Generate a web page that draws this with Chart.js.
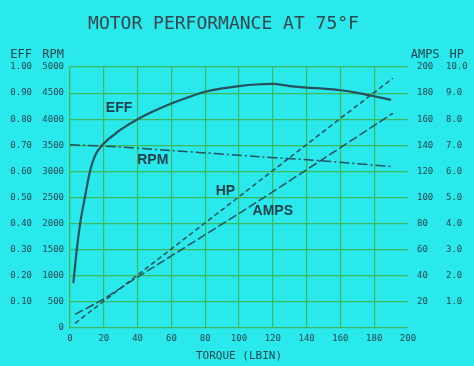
<!DOCTYPE html>
<html><head><meta charset="utf-8">
<script src="https://cdn.jsdelivr.net/npm/chart.js@4/dist/chart.umd.min.js"></script>
<style>html,body{margin:0;padding:0;background:#2ae9ec;overflow:hidden}</style>
</head><body>
<canvas id="c" width="474" height="366"></canvas>
<script>
// ---- data ----
const chartTitle = 'MOTOR PERFORMANCE AT 75°F';
const xTitle = 'TORQUE (LBIN)';
const torqueTicks = [0,20,40,60,80,100,120,140,160,180,200];
const effTickLabels = ['', '0.10','0.20','0.30','0.40','0.50','0.60','0.70','0.80','0.90','1.00'];
const rpmTickLabels = ['0','500','1000','1500','2000','2500','3000','3500','4000','4500','5000'];
const ampsTickLabels = ['', '20','40','60','80','100','120','140','160','180','200'];
const hpTickLabels = ['', '1.0','2.0','3.0','4.0','5.0','6.0','7.0','8.0','9.0','10.0'];

const effTorque = [2,4,6,8.5,12,15,19,23,27,30,40,50,60,70,80,90,100,110,120,130,140,150,160,170,180,190];
const effValues = [0.172,0.30,0.40,0.49,0.605,0.663,0.70,0.725,0.745,0.76,0.80,0.832,0.86,0.884,0.905,0.918,0.927,0.933,0.935,0.927,0.921,0.917,0.911,0.901,0.888,0.874];
const rpmTorque = [0,20,60,112,150,191];
const rpmValues = [3510,3485,3400,3282,3200,3090];
const hpTorque = [3,100,160,191];
const hpValues = [0.18,5.03,8.03,9.57];
const ampsTorque = [3,19,40,110,191];
const ampsValues = [10.5,21.5,39,96,164.5];

// curve label anchors (torque, efficiency-scale value)
const curveLabels = [
  {text:'EFF', x:29, y:0.843},
  {text:'RPM', x:49, y:0.644},
  {text:'HP', x:92, y:0.525},
  {text:'AMPS', x:120, y:0.448}
];

// ---- style ----
const BG = '#2ae9ec';
const GRID = '#3fb85a';
const INK = '#22474f';
const LINE = '#24515c';
const MONO = '"DejaVu Sans Mono", "Liberation Mono", monospace';

const pts = (xs, ys) => xs.map((x,i)=>({x, y: ys[i]}));

const overlay = {
  id:'overlay',
  beforeDraw(chart){
    const c = chart.ctx;
    c.save(); c.fillStyle = BG; c.fillRect(0,0,chart.width,chart.height); c.restore();
  },
  afterDraw(chart){
    const c = chart.ctx, s = chart.scales;
    c.save();
    c.fillStyle = '#34464c';
    c.font = '18px ' + MONO;
    c.textAlign = 'center'; c.textBaseline = 'middle';
    c.fillText(chartTitle, 223.5, 24);
    // axis titles
    c.fillStyle = INK;
    const tickFont = '9px ' + MONO;
    const colCenter = (scale, labels, side, pad) => {
      c.font = tickFont;
      const w = Math.max(...labels.map(l=>c.measureText(l).width));
      c.font = '12px ' + MONO;
      return side === 'left' ? scale.right - pad - w/2 : scale.left + pad + w/2;
    };
    const yT = s.eff.top - 12;
    c.fillText('EFF', colCenter(s.eff, effTickLabels, 'left', 4), yT);
    c.fillText('RPM', colCenter(s.rpm, rpmTickLabels, 'left', 6), yT);
    c.fillText('AMPS', colCenter(s.amps, ampsTickLabels, 'right', 9), yT);
    c.fillText('HP', colCenter(s.hp, hpTickLabels, 'right', 4), yT);
    // curve labels
    c.font = 'bold 14px "Liberation Sans", Arial, sans-serif';
    c.fillStyle = '#1f3f49';
    curveLabels.forEach(l => {
      c.fillText(l.text, s.x.getPixelForValue(l.x), s.eff.getPixelForValue(l.y));
    });
    c.restore();
  }
};

const tickStyle = {color: INK, font: {family: MONO, size: 9}};

new Chart(document.getElementById('c'), {
  type: 'line',
  data: {
    datasets: [
      {label:'EFF', data: pts(effTorque, effValues), yAxisID:'eff', borderColor: LINE, borderWidth: 2.2, pointRadius: 0, cubicInterpolationMode:'monotone', fill:false},
      {label:'RPM', data: pts(rpmTorque, rpmValues), yAxisID:'rpm', borderColor: LINE, borderWidth: 1.5, pointRadius: 0, borderDash:[10,3,2,3], tension:0.3, fill:false},
      {label:'HP', data: pts(hpTorque, hpValues), yAxisID:'hp', borderColor: LINE, borderWidth: 1.5, pointRadius: 0, borderDash:[5,3], fill:false},
      {label:'AMPS', data: pts(ampsTorque, ampsValues), yAxisID:'amps', borderColor: LINE, borderWidth: 1.5, pointRadius: 0, borderDash:[9,3], tension:0.2, fill:false}
    ]
  },
  options: {
    responsive: false,
    animation: false,
    devicePixelRatio: 1,
    layout: {padding: {top: 67, left: 0, right: 0, bottom: 0}},
    plugins: {legend: {display:false}, title:{display:false}, tooltip:{enabled:false}},
    scales: {
      x: {
        type:'linear', min:0, max:200,
        afterBuildTicks: sc => { sc.ticks = torqueTicks.map(v=>({value:v})); },
        ticks: {...tickStyle, padding: 5, maxRotation:0, autoSkip:false},
        grid: {color: ctx => (ctx.tick && ctx.tick.value === 200) ? 'rgba(0,0,0,0)' : GRID, lineWidth: 1.2, drawTicks:false},
        border: {display:false},
        title: {display:true, text: xTitle, color: INK, font:{family: MONO, size: 11}, padding:{top:6, bottom:3}},
        afterFit: sc => { sc.height = 38; }
      },
      rpm: {
        position:'left', min:0, max:5000,
        afterBuildTicks: sc => { sc.ticks = rpmTickLabels.map((_,i)=>({value:i*500})); },
        ticks: {...tickStyle, padding:6, autoSkip:false, callback:(v,i)=>rpmTickLabels[i]},
        grid: {drawOnChartArea:false, drawTicks:false},
        border: {display:true, color: GRID, width: 1.2},
        afterFit: sc => { sc.width = 34; }
      },
      eff: {
        position:'left', min:0, max:1,
        afterBuildTicks: sc => { sc.ticks = effTickLabels.map((_,i)=>({value:i/10})); },
        ticks: {...tickStyle, padding:4, autoSkip:false, callback:(v,i)=>effTickLabels[i]},
        grid: {color: GRID, lineWidth: 1.2, drawTicks:false},
        border: {display:false},
        afterFit: sc => { sc.width = 36; }
      },
      amps: {
        position:'right', min:0, max:200,
        afterBuildTicks: sc => { sc.ticks = ampsTickLabels.map((_,i)=>({value:i*20})); },
        ticks: {...tickStyle, padding:9, autoSkip:false, callback:(v,i)=>ampsTickLabels[i]},
        grid: {drawOnChartArea:false, drawTicks:false},
        border: {display:false},
        afterFit: sc => { sc.width = 34; }
      },
      hp: {
        position:'right', min:0, max:10,
        afterBuildTicks: sc => { sc.ticks = hpTickLabels.map((_,i)=>({value:i})); },
        ticks: {...tickStyle, padding:4, autoSkip:false, callback:(v,i)=>hpTickLabels[i]},
        grid: {drawOnChartArea:false, drawTicks:false},
        border: {display:false},
        afterFit: sc => { sc.width = 32; }
      }
    }
  },
  plugins: [overlay]
});
</script>
</body></html>
